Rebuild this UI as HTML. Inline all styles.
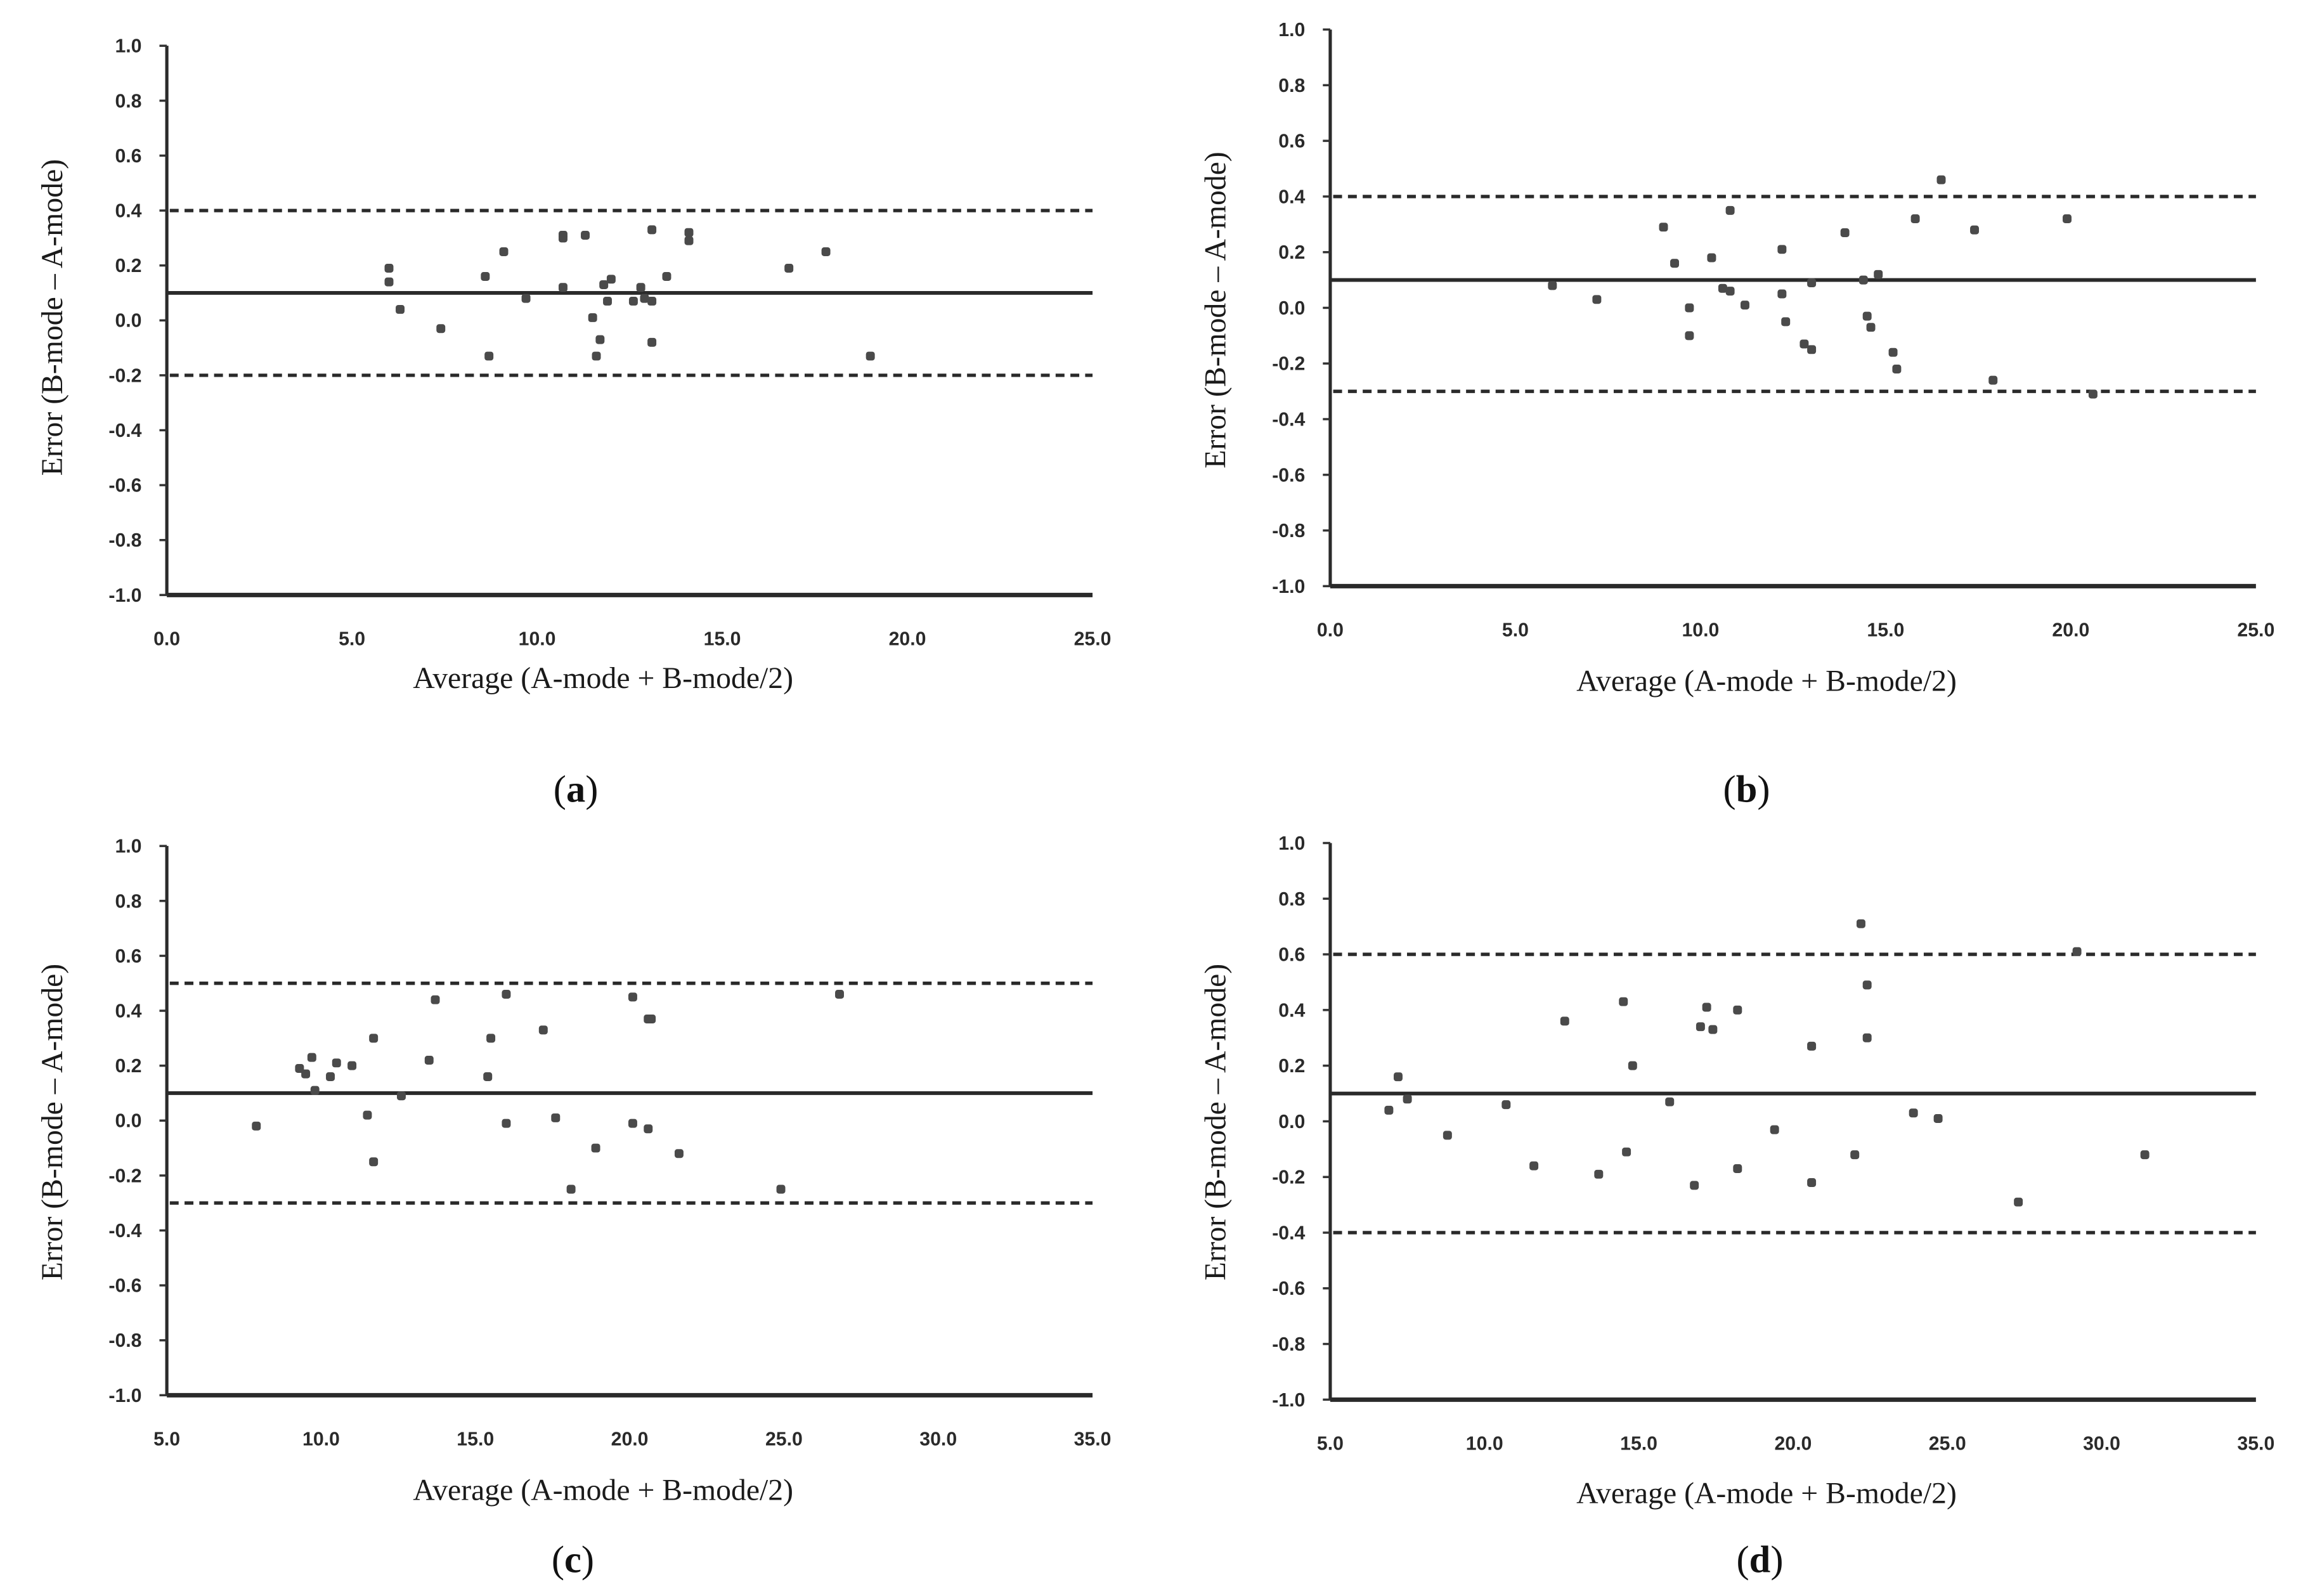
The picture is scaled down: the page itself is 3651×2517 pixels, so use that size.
<!DOCTYPE html>
<html><head><meta charset="utf-8">
<style>
html,body{margin:0;padding:0;background:#fff;}
svg{display:block;}
.tick{font-family:"Liberation Sans",sans-serif;font-size:13px;font-weight:bold;fill:#2a2a2a;}
.title{font-family:"Liberation Serif",serif;font-size:20.5px;fill:#1a1a1a;}
.cap{font-family:"Liberation Serif",serif;font-size:26px;fill:#111;}
</style></head>
<body>
<svg id="fig" width="3651" height="2517" viewBox="0 0 1568 1081" preserveAspectRatio="none" xmlns="http://www.w3.org/2000/svg"></svg>
<script>
const yTicks=[1.0,0.8,0.6,0.4,0.2,0.0,-0.2,-0.4,-0.6,-0.8,-1.0];
const xTicksAB=[0,5,10,15,20,25];
const xTicksCD=[5,10,15,20,25,30,35];
const aX=[6.0,6.0,6.3,7.4,8.6,8.7,9.1,9.7,10.7,10.7,10.7,11.3,11.5,11.6,11.7,11.8,11.9,12.0,12.6,12.8,12.9,13.1,13.1,13.1,13.5,14.1,14.1,16.8,17.8,19.0];
const aY=[0.19,0.14,0.04,-0.03,0.16,-0.13,0.25,0.08,0.30,0.31,0.12,0.31,0.01,-0.13,-0.07,0.13,0.07,0.15,0.07,0.12,0.08,0.07,0.33,-0.08,0.16,0.32,0.29,0.19,0.25,-0.13];
const bX=[6.0,7.2,9.0,9.3,9.7,9.7,10.3,10.6,10.8,10.8,11.2,12.2,12.2,12.3,12.8,13.0,13.0,13.9,14.4,14.5,14.6,14.8,15.2,15.3,15.8,16.5,17.4,17.9,19.9,20.6];
const bY=[0.08,0.03,0.29,0.16,0.0,-0.10,0.18,0.07,0.06,0.35,0.01,0.21,0.05,-0.05,-0.13,-0.15,0.09,0.27,0.10,-0.03,-0.07,0.12,-0.16,-0.22,0.32,0.46,0.28,-0.26,0.32,-0.31];
const cX=[7.9,9.3,9.5,9.7,9.8,10.3,10.5,11.0,11.5,11.7,11.7,12.6,13.5,13.7,15.4,15.5,16.0,16.0,17.2,17.6,18.1,18.9,20.1,20.1,20.6,20.6,20.7,21.6,24.9,26.8];
const cY=[-0.02,0.19,0.17,0.23,0.11,0.16,0.21,0.20,0.02,0.30,-0.15,0.09,0.22,0.44,0.16,0.30,-0.01,0.46,0.33,0.01,-0.25,-0.10,-0.01,0.45,-0.03,0.37,0.37,-0.12,-0.25,0.46];
const dX=[6.9,7.2,7.5,8.8,10.7,11.6,12.6,13.7,14.5,14.6,14.8,16.0,16.8,17.0,17.2,17.4,18.2,18.2,19.4,20.6,20.6,22.0,22.2,22.4,22.4,23.9,24.7,27.3,29.2,31.4];
const dY=[0.04,0.16,0.08,-0.05,0.06,-0.16,0.36,-0.19,0.43,-0.11,0.20,0.07,-0.23,0.34,0.41,0.33,0.40,-0.17,-0.03,0.27,-0.22,-0.12,0.71,0.49,0.30,0.03,0.01,-0.29,0.61,-0.12];
const meanLines=[0.1,0.1,0.1,0.1];
const upperLoA=[0.4,0.4,0.5,0.6];
const lowerLoA=[-0.2,-0.3,-0.3,-0.4];
const captions=["a","b","c","d"];

const NS="http://www.w3.org/2000/svg";
const svg=document.getElementById('fig');
function mk(tag,attrs,parent){const e=document.createElementNS(NS,tag);for(const k in attrs)e.setAttribute(k,attrs[k]);(parent||svg).appendChild(e);return e;}

const panels=[
 {x0:113,x1:740,yTop:31,yBot:403,xmin:0,xmax:25,xt:xTicksAB,X:aX,Y:aY,ytc:215,xtY:466,capX:390,capY:543},
 {x0:901,x1:1528,yTop:20,yBot:397,xmin:0,xmax:25,xt:xTicksAB,X:bX,Y:bY,ytc:210,xtY:468,capX:1183,capY:543},
 {x0:113,x1:740,yTop:573,yBot:945,xmin:5,xmax:35,xt:xTicksCD,X:cX,Y:cY,ytc:760,xtY:1016,capX:388,capY:1065},
 {x0:901,x1:1528,yTop:571,yBot:948,xmin:5,xmax:35,xt:xTicksCD,X:dX,Y:dY,ytc:760,xtY:1018,capX:1192,capY:1065}
];
panels.forEach((p,i)=>{
  const g=mk('g',{});
  
  
  const sx=v=>p.x0+(v-p.xmin)/(p.xmax-p.xmin)*(p.x1-p.x0);
  const sy=v=>p.yBot-(v+1)/2*(p.yBot-p.yTop);
  const ya=mk('line',{x1:p.x0,y1:p.yTop,x2:p.x0,y2:p.yBot,stroke:'#2a2a2a','stroke-width':2.2},g);
  
  
  const xa=mk('line',{x1:p.x0,y1:p.yBot,x2:p.x1,y2:p.yBot,stroke:'#2a2a2a','stroke-width':3},g);
  
  
  yTicks.forEach(t=>{
    mk('line',{x1:p.x0-5,y1:sy(t),x2:p.x0,y2:sy(t),stroke:'#333','stroke-width':1.5},g);
    const tx=mk('text',{x:p.x0-17,y:sy(t)+4.5,'text-anchor':'end',class:'tick'},g);
    tx.textContent=t.toFixed(1);
    
    
  });
  p.xt.forEach(t=>{
    const tx=mk('text',{x:sx(t),y:p.yBot+34,'text-anchor':'middle',class:'tick'},g);
    tx.textContent=t.toFixed(1);
    
    
  });
  const ml=mk('line',{x1:p.x0,y1:sy(meanLines[i]),x2:p.x1,y2:sy(meanLines[i]),stroke:'#2a2a2a','stroke-width':2.5},g);
  
  
  [upperLoA[i],lowerLoA[i]].forEach((v,k)=>{
    const l=mk('line',{x1:p.x0+2,y1:sy(v),x2:p.x1,y2:sy(v),stroke:'#2a2a2a','stroke-width':2.3,'stroke-dasharray':'6,4'},g);
    
    
  });
  p.X.forEach((xv,j)=>{
    const c=mk('rect',{x:sx(xv)-3,y:sy(p.Y[j])-3,width:6,height:6,rx:1.8,fill:'#4a4a4a'},g);
    
    
  });
  const yt=mk('text',{x:0,y:0,'text-anchor':'middle',class:'title',transform:`translate(${p.x0-71},${p.ytc}) rotate(-90)`},g);
  yt.textContent='Error (B-mode \u2013 A-mode)';
  
  
  const xt=mk('text',{x:(p.x0+p.x1)/2-18,y:p.xtY,'text-anchor':'middle',class:'title'},g);
  xt.textContent='Average (A-mode + B-mode/2)';
  
  
  const cp=mk('text',{x:p.capX,y:p.capY,'text-anchor':'middle',class:'cap'},g);
  cp.innerHTML='(<tspan font-weight="bold">'+captions[i]+'</tspan>)';
  
  
});
</script>
</body></html>
